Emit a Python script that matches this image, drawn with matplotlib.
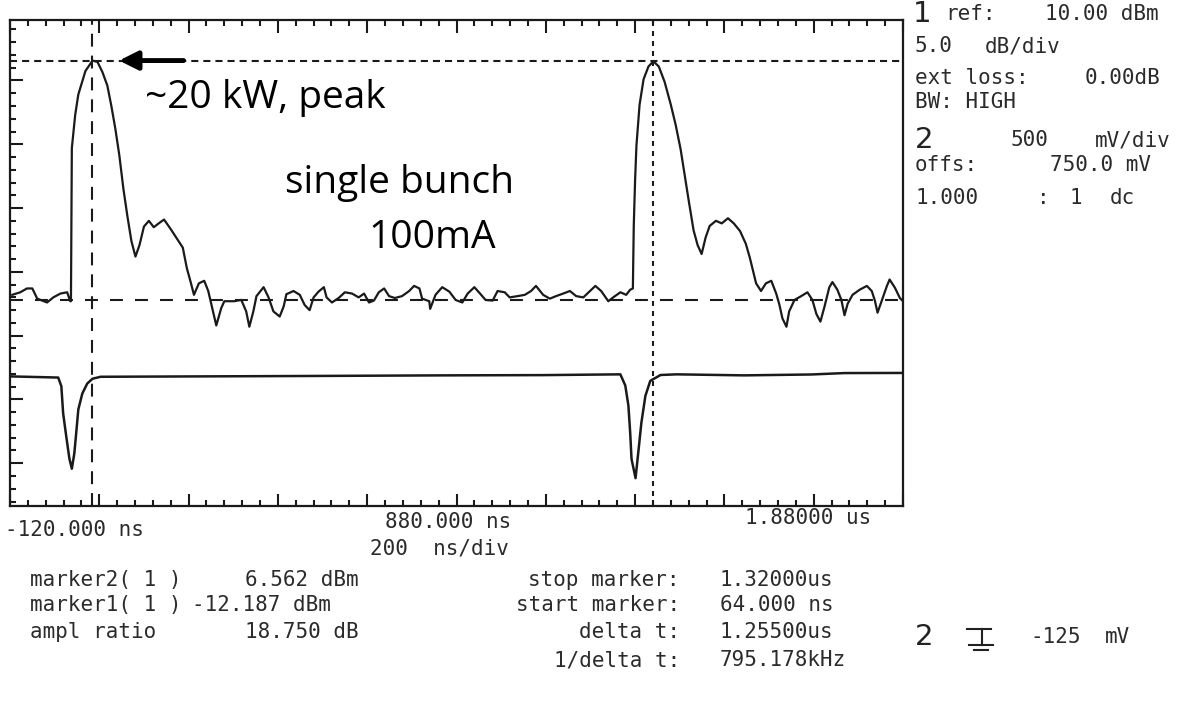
import numpy as np
import matplotlib
matplotlib.use('Agg')
import matplotlib.pyplot as plt
from matplotlib.ticker import MultipleLocator
from matplotlib.lines import Line2D

# channel 1 (RF power, dBm)
ch1_t = [-115, -97, -82, -70, -59, -37, -23, -7, 8, 15, 16.5, 18.5, 26, 33, 49, 65, 76, 87, 98, 107,
         116, 125, 134, 143, 152, 161, 170, 180, 191, 202, 213, 225, 240, 256, 267, 276, 285, 292, 303, 315,
         324, 330, 342, 353, 360, 382, 398, 409, 416, 425, 432, 448, 459, 470, 484, 493, 499, 515, 529, 540,
         551, 560, 571, 583, 589, 601, 616, 630, 646, 661, 673, 684, 695, 706, 718, 729, 742, 758, 774, 785,
         797, 803, 819, 821, 833, 848, 864, 878, 893, 905, 920, 934, 945, 961, 972, 988, 999, 1017, 1033, 1047,
         1058, 1074, 1089, 1103, 1119, 1134, 1148, 1164, 1179, 1191, 1204, 1220, 1231, 1247, 1260, 1269, 1275, 1277, 1280, 1283,
         1290, 1299, 1310, 1321, 1333, 1346, 1360, 1371, 1382, 1391, 1400, 1411, 1420, 1429, 1438, 1447, 1461, 1474, 1488, 1501,
         1515, 1528, 1537, 1544, 1551, 1562, 1573, 1585, 1596, 1603, 1610, 1619, 1625, 1637, 1652, 1666, 1677, 1686, 1695, 1704,
         1715, 1722, 1733, 1742, 1749, 1756, 1767, 1783, 1799, 1810, 1817, 1823, 1832, 1844, 1850, 1862, 1873, 1880]
ch1_dbm = [-11.8, -11.6, -11.3, -11.3, -12.1, -12.4, -12.0, -11.7, -11.6, -12.3, -12.3, -0.3, 2.3, 3.9, 5.75, 6.56, 6.45, 5.66, 4.6, 3.0,
           1.2, -0.9, -3.5, -5.65, -7.6, -8.8, -7.9, -6.45, -6.0, -6.5, -6.2, -5.9, -6.65, -7.5, -8.1, -9.7, -10.85, -11.8, -10.9, -10.7,
           -11.5, -12.4, -14.2, -12.85, -12.3, -12.3, -12.2, -13.1, -14.3, -13.1, -11.9, -11.2, -12.0, -13.1, -13.5, -12.7, -11.75, -11.5, -11.8, -12.6,
           -13.0, -12.0, -11.55, -11.2, -12.0, -12.4, -12.05, -11.6, -11.7, -12.0, -11.7, -12.4, -12.25, -11.6, -11.3, -11.9, -12.05, -11.9, -11.5, -11.1,
           -11.3, -12.1, -12.3, -12.9, -11.8, -11.2, -11.55, -12.2, -12.4, -11.7, -11.2, -11.75, -12.2, -12.25, -11.5, -11.6, -12.0, -11.9, -11.8, -11.5,
           -11.1, -11.8, -12.1, -11.9, -11.7, -11.5, -11.9, -12.0, -11.5, -11.1, -11.5, -12.3, -12.0, -11.6, -11.8, -11.4, -11.3, -6.4, -2.8, -0.1,
           3.1, 5.1, 6.1, 6.5, 6.1, 4.9, 3.1, 1.5, -0.4, -2.4, -4.4, -6.75, -7.9, -8.6, -7.3, -6.4, -6.0, -6.2, -5.8, -6.2,
           -6.8, -7.8, -8.9, -9.9, -10.9, -11.5, -10.9, -10.7, -11.7, -12.55, -13.65, -14.3, -13.1, -12.2, -11.9, -11.6, -12.2, -13.3, -13.9, -12.75,
           -11.2, -10.8, -11.4, -12.2, -13.4, -12.5, -11.8, -11.4, -11.1, -11.5, -12.25, -13.2, -12.3, -11.1, -10.6, -11.25, -12.05, -12.3]

# channel 2 (beam monitor, mV)
ch2_t = [-120, -12, -5, -1, 6, 13, 18.5, 24, 29, 33, 42, 53, 65, 83, 308, 533, 848, 1074, 1247, 1258,
         1265, 1269, 1272, 1281, 1287, 1294, 1303, 1314, 1337, 1373, 1524, 1675, 1749, 1880]
ch2_mv = [-67, -76, -144, -356, -537, -711, -790, -672, -483, -326, -201, -123, -85, -70, -67, -64, -59, -57, -51, -138,
          -296, -509, -714, -864, -667, -432, -220, -102, -56, -51, -59, -52, -41, -40]

marker2 = 6.562     # dBm
marker1 = -12.187   # dBm
start_marker = 64   # ns
stop_marker = 1320  # ns

W, H = 1199, 710
fig = plt.figure(figsize=(W / 100, H / 100), dpi=100)
ink = '#1a1a1a'


def px(x, y):
    return x / W, 1 - y / H


ax = fig.add_axes([10 / W, 1 - 506 / H, 893 / W, 486 / H])
ax.set_xlim(-120, 1880)
ax.set_ylim(-28.35, 9.74)
for s in ax.spines.values():
    s.set_linewidth(1.6)
    s.set_color(ink)
ax.set_xticks(np.arange(-120, 1881, 200))
ax.xaxis.set_minor_locator(MultipleLocator(40, offset=-120))
ax.yaxis.set_major_locator(MultipleLocator(5))
ax.yaxis.set_minor_locator(MultipleLocator(1))
ax.tick_params(which='both', direction='in', top=True, right=True, bottom=True, left=True,
               labelbottom=False, labelleft=False, color=ink)
ax.tick_params(which='major', length=9, width=1.5)
ax.tick_params(which='minor', length=4, width=1.5)

# marker lines
ax.axhline(marker2, color=ink, lw=1.5, dashes=(3.4, 2.4))
ax.axhline(marker1, color=ink, lw=1.5, dashes=(6.2, 5.8))
ax.axvline(start_marker, color=ink, lw=1.5, dashes=(6.2, 4.3))
ax.axvline(stop_marker, color=ink, lw=1.5, dashes=(2.4, 2.4))

ax.plot(ch1_t, ch1_dbm, color=ink, lw=1.6)

ax2 = ax.twinx()
ax2.set_ylim(-1082, 2724)
ax2.axis('off')
ax2.plot(ch2_t, ch2_mv, color=ink, lw=1.8)

# hand written notes
ax.annotate('', xy=(118, marker2), xytext=(275, marker2),
            arrowprops=dict(arrowstyle='-|>', lw=3.5, color='black', mutation_scale=28))
hand = dict(family='Open Sans', color='black', va='center', ha='left')
fig.text(*px(145, 98), '~20 kW, peak', fontsize=28, **hand)
fig.text(*px(285, 183), 'single bunch', fontsize=28, **hand)
fig.text(*px(368, 238), '100mA', fontsize=28, **hand)

# printer text
mono = dict(family='DejaVu Sans Mono', color='#2b2b2b', va='center', ha='left', fontsize=15)
big = dict(family='DejaVu Sans', color='#222222', va='center', ha='left', fontsize=21)

fig.text(*px(913, 14), '1', **big)
fig.text(*px(945, 14), 'ref:', **mono)
fig.text(*px(1045, 14), '10.00 dBm', **mono)
fig.text(*px(915, 46), '5.0', **mono)
fig.text(*px(985, 46), 'dB/div', **mono)
fig.text(*px(915, 78), 'ext loss:', **mono)
fig.text(*px(1085, 78), '0.00dB', **mono)
fig.text(*px(915, 102), 'BW: HIGH', **mono)
fig.text(*px(915, 140), '2', **big)
fig.text(*px(1010, 140), '500', **mono)
fig.text(*px(1095, 140), 'mV/div', **mono)
fig.text(*px(915, 165), 'offs:', **mono)
fig.text(*px(1050, 165), '750.0 mV', **mono)
fig.text(*px(915, 198), '1.000', **mono)
fig.text(*px(1037, 198), ':', **mono)
fig.text(*px(1070, 198), '1', **mono)
fig.text(*px(1110, 198), 'dc', **mono)

fig.text(*px(5, 530), '-120.000 ns', **mono)
fig.text(*px(385, 522), '880.000 ns', **mono)
fig.text(*px(745, 518), '1.88000 us', **mono)
fig.text(*px(370, 549), '200  ns/div', **mono)

fig.text(*px(30, 580), 'marker2( 1 )', **mono)
fig.text(*px(245, 580), '6.562 dBm', **mono)
fig.text(*px(30, 605), 'marker1( 1 )', **mono)
fig.text(*px(192, 605), '-12.187 dBm', **mono)
fig.text(*px(30, 632), 'ampl ratio', **mono)
fig.text(*px(245, 632), '18.750 dB', **mono)

right = dict(mono, ha='right')
fig.text(*px(680, 580), 'stop marker:', **right)
fig.text(*px(680, 605), 'start marker:', **right)
fig.text(*px(680, 632), 'delta t:', **right)
fig.text(*px(680, 660), '1/delta t:', **right)
fig.text(*px(720, 580), '1.32000us', **mono)
fig.text(*px(720, 605), '64.000 ns', **mono)
fig.text(*px(720, 632), '1.25500us', **mono)
fig.text(*px(720, 660), '795.178kHz', **mono)

# channel 2 ground reference: "2 (ground symbol) -125 mV"
fig.text(*px(915, 637), '2', **big)
for (x0, y0), (x1, y1) in [((967, 629), (991, 629)), ((982, 629), (982, 645)),
                           ((969, 645), (993, 645)), ((974, 650), (988, 650))]:
    fig.add_artist(Line2D([x0 / W, x1 / W], [1 - y0 / H, 1 - y1 / H],
                          transform=fig.transFigure, color='#222222', lw=1.5))
fig.text(*px(1030, 637), '-125', **mono)
fig.text(*px(1105, 637), 'mV', **mono)

fig.savefig('out.png', dpi=100, facecolor='white')
